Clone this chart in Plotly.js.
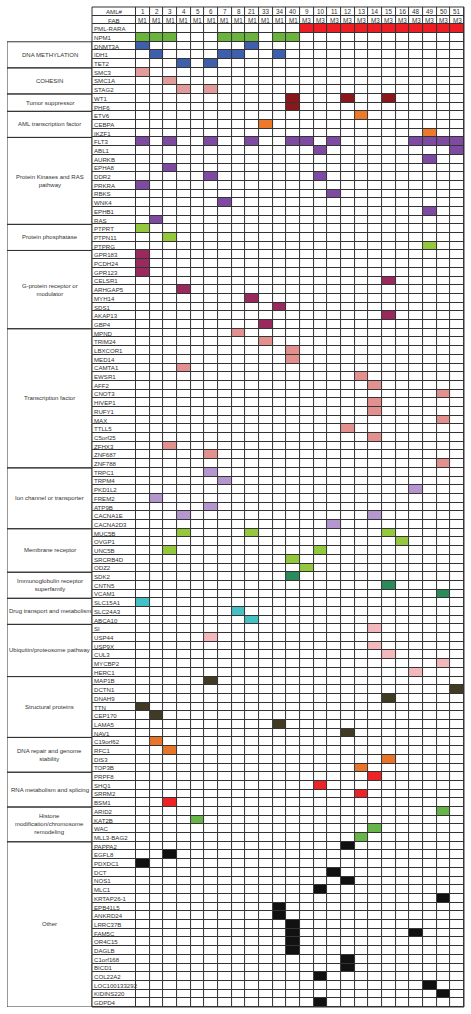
<!DOCTYPE html>
<html><head><meta charset="utf-8">
<script src="https://cdn.plot.ly/plotly-3.0.1.min.js"></script>
<style>html,body{margin:0;padding:0;background:#fff}</style>
</head><body><div id="chart" style="width:471px;height:1014px"></div>
<script>
const amlNumbers = ['1','2','3','4','5','6','7','8','21','33','34','40','9','10','11','12','13','14','15','16','48','49','50','51'];
const fabTypes = ['M1','M1','M1','M1','M1','M1','M1','M1','M1','M1','M1','M1','M3','M3','M3','M3','M3','M3','M3','M3','M3','M3','M3','M3'];

const headerGenes = ['PML-RARA','NPM1'];
const headerColors = ['#ee1d24','#6ab43e'];
const headerHits = [
  ['9','10','11','12','13','14','15','16','48','49','50','51'],
  ['1','2','3','7','8','21','34','40']
];

const groupLabels = [
  'DNA METHYLATION','COHESIN','Tumor suppressor','AML transcription factor',
  'Protein Kinases and RAS<br>pathway','Protein phosphatase','G-protein receptor or<br>modulator',
  'Transcription factor','Ion channel or transporter','Membrane receptor',
  'Immunoglobulin receptor<br>superfamily','Drug transport and metabolism','Ubiquitin/proteosome pathway',
  'Structural proteins','DNA repair and genome<br>stability','RNA metabolism and splicing',
  'Histone<br>modification/chromosome<br>remodeling','Other'
];
const groupColors = ['#3d5fac','#e39c9c','#8a1719','#ec7a2a','#7f4ba2','#95c93d','#9a2a5e','#e3918f','#b596cf','#95c93d','#2b8c5a','#45c0c4','#f2b8bc','#413b24','#e8752a','#ed2426','#68b54a','#111111'];

const groupGenes = [
  ['DNMT3A','IDH1','TET2'],
  ['SMC3','SMC1A','STAG2'],
  ['WT1','PHF6'],
  ['ETV6','CEBPA','IKZF1'],
  ['FLT3','ABL1','AURKB','EPHA8','DDR2','PRKRA','RBKS','WNK4','EPHB1','RAS'],
  ['PTPRT','PTPN11','PTPRG'],
  ['GPR183','PCDH24','GPR123','CELSR1','ARHGAP5','MYH14','SDS1','AKAP13','GBP4'],
  ['MPND','TRIM24','LBXCOR1','MED14','CAMTA1','EWSR1','AFF2','CNOT3','HIVEP1','RUFY1','MAX','TTLL5','C5orf25','ZFHX3','ZNF687','ZNF788'],
  ['TRPC1','TRPM4','PKD1L2','FREM2','ATP9B','CACNA1E','CACNA2D3'],
  ['MUC5B','OVGP1','UNC5B','SRCRB4D','ODZ2'],
  ['SDK2','CNTN5','VCAM1'],
  ['SLC15A1','SLC24A3','ABCA10'],
  ['SI','USP44','USP9X','CUL3','MYCBP2','HERC1'],
  ['MAP1B','DCTN1','DNAH9','TTN','CEP170','LAMA5','NAV1'],
  ['C19orf62','RFC1','DIS3','TOP3B'],
  ['PRPF8','SHQ1','SRRM2','BSM1'],
  ['ARID2','KAT2B','WAC','MLL3-BAG2'],
  ['PAPPA2','EGFL8','PDXDC1','DCT','NOS1','MLC1','KRTAP26-1','EPB41L5','ANKRD24','LRRC37B','FAM5C','OR4C15','DAGLB','C1orf168','BICD1','COL22A2','LOC100133292','KIDINS220','GDPD4']
];

const groupHits = [
  [['1','21'],['2','7','8','34'],['4','6']],
  [['1'],['3'],['4','6']],
  [['40','12','15'],['40']],
  [['13'],['33'],['49']],
  [['1','3','6','21','40','9','11','48','49','50','51'],['10','51'],['49'],['3'],['6','10'],['1'],['11'],['7'],['49'],['2']],
  [['1'],['3'],['49']],
  [['1'],['1'],['1'],['15'],['4'],['21'],['34'],['15'],['33']],
  [['8'],['33'],['40'],['40'],['4'],['13'],['14'],['50'],['14'],['14'],['50'],['12'],['14'],['3'],['6'],['50']],
  [['6'],['7'],['48'],['2'],['6'],['4','14'],['11']],
  [['4','21','15'],['16'],['3','10'],['40'],['9']],
  [['40'],['15'],['50']],
  [['1'],['8'],['21']],
  [['14'],['6'],['14'],['15'],['50'],['48']],
  [['6'],['51'],['15'],['1'],['2'],['34'],['12']],
  [['2'],['3'],['15'],['13']],
  [['14'],['10'],['13'],['3']],
  [['50'],['5'],['14'],['13']],
  [['12'],['3'],['1'],['11'],['12'],['10'],['50'],['34'],['34'],['40'],['40','48'],['40'],['40'],['12'],['12'],['10'],['49'],['50'],['10']]
];

// ---- build the grid from the arrays ----
const rowNames = ['AML#','FAB'];
const rowHits = [[],[]];
const rowColorIdx = [0,0];
const colorList = ['#ffffff'];
headerGenes.forEach((g,i)=>{
  colorList.push(headerColors[i]);
  rowNames.push(g); rowHits.push(headerHits[i]); rowColorIdx.push(colorList.length-1);
});
const groupStart = [], groupEnd = [];
groupGenes.forEach((genes,gi)=>{
  colorList.push(groupColors[gi]);
  const ci = colorList.length-1;
  groupStart.push(rowNames.length);
  genes.forEach((g,k)=>{ rowNames.push(g); rowHits.push(groupHits[gi][k]); rowColorIdx.push(ci); });
  groupEnd.push(rowNames.length-1);
});
const nRows = rowNames.length, nCols = amlNumbers.length;
const rowIdx = rowNames.map((_,i)=>i);
const colIdx = amlNumbers.map((_,i)=>i);
const z = rowHits.map((hits,r)=>amlNumbers.map(a=>hits.includes(a)?rowColorIdx[r]:0));
const K = colorList.length;
const colorscale = [];
colorList.forEach((c,k)=>{ colorscale.push([k/K,c]); colorscale.push([(k+1)/K,c]); });

const gridColor = '#333';
const fontFam = 'Liberation Sans, Arial, sans-serif';
const cellFont = {family: fontFam, size: 6.3, color: '#333'};
const nameFont = {family: fontFam, size: 6.1, color: '#333'};
const groupFont = {family: fontFam, size: 6.0, color: '#333'};
const domGroup = [0, 0.186], domGene = [0.186, 0.2823], domData = [0.2823, 1];

const traces = [
  {type:'heatmap', x:colIdx, y:rowIdx, z:z, colorscale:colorscale, zmin:-0.5, zmax:K-0.5,
   xgap:1, ygap:1, showscale:false, hoverinfo:'skip', xaxis:'x', yaxis:'y'},
  {type:'heatmap', x:[0], y:rowIdx, z:rowIdx.map(()=>[0]), colorscale:[[0,'#fff'],[1,'#fff']],
   xgap:1, ygap:1, showscale:false, hoverinfo:'skip', xaxis:'x2', yaxis:'y'},
  {type:'heatmap', x:[0], y:rowIdx, z:rowIdx.map(()=>[0]), colorscale:[[0,'#fff'],[1,'#fff']],
   showscale:false, hoverinfo:'skip', xaxis:'x3', yaxis:'y'}
];

const annotations = [];
amlNumbers.forEach((a,c)=>annotations.push({x:c,y:0,xref:'x',yref:'y',text:a,showarrow:false,font:cellFont}));
fabTypes.forEach((f,c)=>annotations.push({x:c,y:1,xref:'x',yref:'y',text:f,showarrow:false,font:cellFont}));
rowNames.forEach((n,r)=>{
  if(r<2) annotations.push({x:0,y:r,xref:'x2',yref:'y',text:n,showarrow:false,font:nameFont});
  else annotations.push({x:-0.5,y:r,xref:'x2',yref:'y',text:n,showarrow:false,xanchor:'left',font:nameFont});
});
groupLabels.forEach((g,gi)=>annotations.push({x:0,y:(groupStart[gi]+groupEnd[gi])/2,xref:'x3',yref:'y',
  text:g,showarrow:false,font:groupFont}));

const shapes = [{type:'rect',xref:'paper',yref:'paper',x0:domGene[0],x1:1,y0:0,y1:1,line:{color:gridColor,width:1}}];
groupLabels.forEach((g,gi)=>shapes.push({type:'rect',xref:'x3',yref:'y',x0:-0.5,x1:0.5,
  y0:groupStart[gi]-0.5,y1:groupEnd[gi]+0.5,line:{color:gridColor,width:1}}));

const hidden = {showgrid:false,zeroline:false,showticklabels:false,ticks:'',showline:false};
const layout = {
  width:471, height:1014, margin:{l:7,r:7,t:7,b:7},
  paper_bgcolor:'#fff', plot_bgcolor:gridColor, showlegend:false,
  xaxis:Object.assign({domain:domData, range:[-0.5,nCols-0.5], anchor:'y'},hidden),
  xaxis2:Object.assign({domain:domGene, range:[-0.5,0.5], anchor:'y'},hidden),
  xaxis3:Object.assign({domain:domGroup, range:[-0.5,0.5], anchor:'y'},hidden),
  yaxis:Object.assign({domain:[0,1], range:[nRows-0.5,-0.5], anchor:'x'},hidden),
  annotations:annotations, shapes:shapes
};
Plotly.newPlot('chart', traces, layout, {displayModeBar:false, staticPlot:true});
</script></body></html>
